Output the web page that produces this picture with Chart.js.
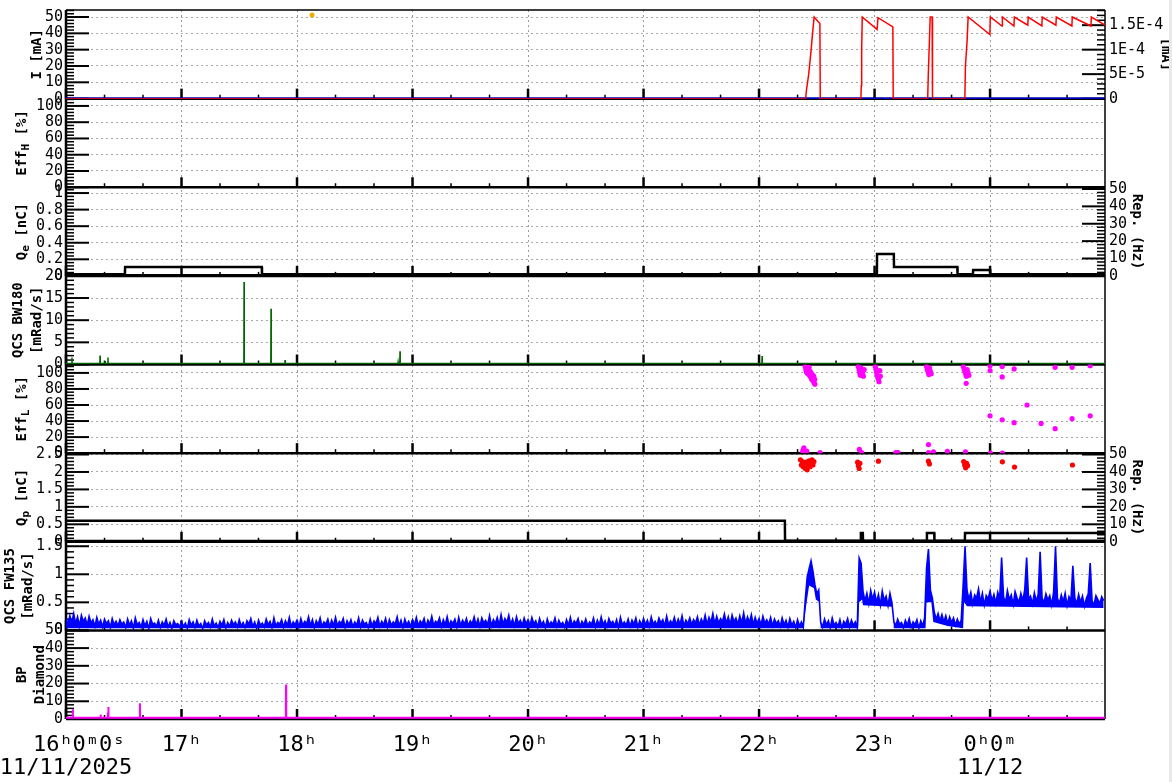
<!DOCTYPE html>
<html>
<head>
<meta charset="utf-8">
<title>Beam monitor 11/11/2025</title>
<script src="https://cdn.jsdelivr.net/npm/chart.js@4.4.1/dist/chart.umd.min.js"></script>
<style>
  html, body { margin: 0; padding: 0; background: #fff; }
  canvas { display: block; }
</style>
</head>
<body>
<canvas id="myChart" width="1172" height="782"></canvas>
<script>
// time = minutes after 16:00 on 11/11/2025
const xMax = 539.7;
const hourTicks = [0, 60, 120, 180, 240, 300, 360, 420, 480];
const hourLabels = [['  16ʰ0ᵐ0ˢ', '11/11/2025'], '17ʰ', '18ʰ', '19ʰ', '20ʰ', '21ʰ', '22ʰ', '23ʰ', ['0ʰ0ᵐ', '11/12']];

// panel 1 : I [mA]
const iTime = [0, 384.2, 384.6, 385.8, 386.9, 387.8, 388.6, 391.6, 391.8, 412.9, 413.1, 413.3, 413.6, 421.3, 421.8, 429.5, 429.7,
  447.6, 447.9, 448.9, 449.9, 450.1, 466.9, 467.2, 468.1, 468.6, 479.9, 480.1, 486.2, 486.4, 492.4, 492.6, 499.6, 499.8,
  506.9, 507.1, 514.2, 514.4, 522.5, 522.7, 532.4, 532.6, 539.7];
const iVal = [0, 0, 5, 15, 28, 40, 50, 46, 0, 0, 8, 30, 50, 42.4, 49.6, 44, 0,
  0, 14, 50, 50, 0, 0, 20, 36, 50, 39.3, 50, 44.5, 50, 44.5, 50, 45, 50,
  44.5, 50, 45, 50, 44.5, 50, 44.5, 50, 45];
const iRightTime = [0, xMax];
const iRightVal = [0, 0];
const extraTime = [127.8];
const extraVal = [51.2];

// panel 3 : Qe [nC] and Rep. (Hz)
const qeTime = [0, 30.6, 30.7, 101.7, 101.8, 421.2, 421.3, 430.0, 430.1, 463.0, 463.1, 471.1, 471.2, 480.0, 480.1, xMax];
const qeVal = [0.02, 0.02, 0.108, 0.108, 0.02, 0.02, 0.265, 0.265, 0.108, 0.108, 0.02, 0.02, 0.07, 0.07, 0.02, 0.02];
const repETime = [0, xMax];
const repEVal = [0.3, 0.3];

// panel 4 : QCS BW180 [mRad/s]
const bwTime = [0, 3.0, 3.1, 3.2, 17.6, 17.7, 17.8, 20.2, 20.3, 20.4, 21.7, 21.8, 21.9, 92.4, 92.5, 92.6,
  106.4, 106.5, 106.6, 113.7, 113.8, 113.9, 172.4, 172.5, 172.6, 173.4, 173.5, 173.6, 361.5, 361.6, 361.7, xMax];
const bwVal = [0.2, 0.2, 1.6, 0.2, 0.2, 2.0, 0.2, 0.2, 0.8, 0.2, 0.2, 1.6, 0.2, 0.2, 18.6, 0.2,
  0.2, 12.6, 0.2, 0.2, 1.0, 0.2, 0.2, 0.5, 0.2, 0.2, 3.0, 0.2, 0.2, 1.9, 0.2, 0.2];

// panel 5 : EffL [%]
const effLTime = [384.0, 384.3, 384.6, 385.0, 385.3, 385.6, 386.0, 386.2, 386.5, 386.8, 387.0, 387.3, 387.6, 387.8, 388.1, 388.4, 388.6, 388.9, 389.0,
  411.5, 412.0, 412.3, 412.6, 413.0, 413.4, 413.8, 414.2, 414.6,
  420.4, 420.7, 421.0, 421.3, 421.6, 422.0, 422.3, 422.7, 423.0,
  447.0, 447.4, 447.8, 448.2, 448.6, 449.0, 449.4,
  466.1, 466.5, 466.9, 467.3, 467.7, 468.1, 468.6, 469.0, 467.6,
  480.0, 480.0, 486.3, 486.3, 492.5, 513.8, 522.6, 532.0,
  480.0, 486.3, 492.5, 499.2, 506.5, 513.8, 522.6, 532.0,
  383.0, 382.7, 384.8, 383.3, 391.7, 412.1, 413.3, 431.0, 432.2, 448.0, 448.0, 450.6, 457.8, 467.2, 480.2, 486.4];
const effLVal = [108, 104, 101, 106, 99, 103, 107, 97, 102, 95, 100, 92, 98, 94, 90, 96, 88, 92, 86,
  108, 104, 100, 97, 106, 102, 99, 96, 104,
  108, 105, 101, 98, 95, 92, 89, 103, 96,
  108, 104, 101, 98, 106, 102, 99,
  108, 105, 102, 99, 96, 104, 100, 97, 87,
  109, 103, 108, 95, 105, 107, 107, 109,
  46.5, 41.6, 38, 60, 37, 30.5, 43, 46.5,
  4.6, 2.5, 2.5, 6.7, 0.5, 4.6, 0.5, 0.5, 0.5, 10.7, 0.5, 1.6, 2.1, 1.6, 0, 0];

// panel 6 : Qp [nC] and Rep. (Hz)
const qpDotTime = [381.5, 382.0, 382.5, 383.0, 383.5, 384.0, 384.5, 385.0, 385.5, 386.0, 386.5, 387.0, 387.5, 388.0, 388.5,
  411.2, 411.6, 412.0, 412.4, 422.0, 448.0, 448.5, 466.3, 466.8, 467.3, 467.8, 468.3, 486.4, 492.7, 522.8];
const qpDotVal = [2.35, 2.2, 2.3, 2.15, 2.25, 2.1, 2.28, 2.06, 2.2, 2.32, 2.15, 2.25, 2.35, 2.2, 2.3,
  2.28, 2.18, 2.1, 2.25, 2.31, 2.31, 2.23, 2.3, 2.2, 2.12, 2.25, 2.18, 2.29, 2.14, 2.2];
const qpTime = [0, 373.4, 373.5, xMax];
const qpVal = [0.6, 0.6, 0.03, 0.03];
const repPTime = [0, 412.8, 412.9, 413.9, 414.0, 447.1, 447.2, 451.0, 451.1, 466.9, 467.0, xMax];
const repPVal = [0.5, 0.5, 5, 5, 0.5, 0.5, 5, 5, 0.5, 0.5, 5, 5];

// panel 7 : QCS FW135 [mRad/s], one value per minute from 16:00
const fwVal = [
  0.21,0.10,0.26,0.14,0.30,0.12,0.24,0.08,0.27,0.16,0.22,0.09,0.25,0.13,0.19,0.07,0.23,0.11,0.18,0.06,0.20,0.12,0.17,0.05,0.21,0.10,0.16,0.08,0.19,0.11,
  0.15,0.05,0.20,0.09,0.17,0.04,0.22,0.10,0.14,0.06,0.19,0.08,0.16,0.03,0.21,0.11,0.13,0.07,0.18,0.05,0.15,0.09,0.20,0.06,0.14,0.04,0.17,0.10,0.12,0.06,
  0.16,0.07,0.13,0.04,0.19,0.09,0.15,0.05,0.18,0.08,0.12,0.03,0.17,0.10,0.14,0.06,0.20,0.08,0.13,0.05,0.16,0.09,0.19,0.04,0.14,0.07,0.18,0.10,0.15,0.06,
  0.19,0.08,0.14,0.05,0.17,0.11,0.21,0.07,0.15,0.04,0.18,0.09,0.13,0.06,0.20,0.10,0.16,0.05,0.22,0.08,0.14,0.11,0.19,0.06,0.17,0.09,0.23,0.07,0.15,0.10,
  0.18,0.06,0.21,0.09,0.16,0.12,0.24,0.08,0.19,0.05,0.17,0.10,0.22,0.07,0.15,0.11,0.20,0.06,0.18,0.09,0.23,0.08,0.16,0.12,0.21,0.05,0.17,0.10,0.19,0.07,
  0.15,0.09,0.22,0.06,0.18,0.11,0.14,0.05,0.20,0.08,0.17,0.12,0.23,0.07,0.16,0.10,0.21,0.06,0.19,0.09,0.15,0.11,0.24,0.08,0.18,0.05,0.20,0.10,0.16,0.07,
  0.19,0.10,0.23,0.08,0.17,0.12,0.21,0.06,0.18,0.11,0.25,0.09,0.16,0.13,0.22,0.07,0.19,0.10,0.24,0.08,0.17,0.12,0.20,0.06,0.23,0.09,0.18,0.11,0.21,0.08,
  0.17,0.12,0.24,0.09,0.20,0.07,0.22,0.13,0.18,0.10,0.26,0.08,0.19,0.12,0.23,0.09,0.28,0.11,0.21,0.14,0.27,0.10,0.20,0.08,0.24,0.12,0.18,0.09,0.22,0.11,
  0.19,0.08,0.23,0.12,0.17,0.06,0.21,0.10,0.16,0.05,0.20,0.09,0.15,0.11,0.22,0.07,0.18,0.10,0.14,0.06,0.19,0.09,0.23,0.08,0.17,0.12,0.21,0.07,0.16,0.10,
  0.20,0.08,0.15,0.11,0.22,0.06,0.18,0.09,0.24,0.10,0.17,0.07,0.21,0.12,0.16,0.08,0.19,0.05,0.23,0.10,0.15,0.09,0.20,0.07,0.18,0.11,0.22,0.06,0.17,0.09,
  0.21,0.10,0.18,0.07,0.24,0.11,0.16,0.09,0.22,0.13,0.19,0.08,0.25,0.10,0.17,0.12,0.23,0.09,0.20,0.11,0.26,0.08,0.18,0.12,0.22,0.10,0.19,0.13,0.24,0.09,
  0.20,0.12,0.27,0.10,0.23,0.14,0.30,0.11,0.25,0.13,0.21,0.16,0.29,0.12,0.24,0.10,0.27,0.15,0.22,0.11,0.26,0.13,0.31,0.12,0.24,0.14,0.28,0.10,0.23,0.12,
  0.21,0.09,0.25,0.13,0.19,0.11,0.23,0.08,0.20,0.12,0.17,0.07,0.22,0.10,0.18,0.06,0.21,0.09,0.16,0.05,0.19,0.08,0.15,0.06,0.55,0.95,1.10,1.24,1.05,0.82,
  0.65,0.72,0.15,0.06,0.20,0.10,0.17,0.05,0.22,0.09,0.14,0.07,0.19,0.04,0.16,0.11,0.21,0.06,0.18,0.09,0.15,0.05,1.29,1.20,0.70,0.52,0.66,0.48,0.71,0.55,
  0.68,0.50,0.64,0.45,0.70,0.53,0.61,0.44,0.66,0.50,0.16,0.08,0.20,0.11,0.14,0.05,0.18,0.09,0.21,0.06,0.15,0.10,0.19,0.04,0.17,0.08,0.22,1.10,1.45,0.72,
  0.58,0.33,0.20,0.30,0.17,0.28,0.15,0.26,0.12,0.24,0.14,0.22,0.09,0.20,0.11,0.18,0.80,1.50,0.72,0.55,0.68,0.47,0.63,0.58,0.74,0.50,0.66,0.45,0.62,0.56,
  0.70,0.52,0.64,0.48,0.68,0.57,1.30,0.60,0.49,0.71,0.55,0.63,0.46,0.69,0.58,0.50,0.66,0.53,0.72,1.30,0.56,0.61,0.47,0.67,0.52,0.64,1.40,0.58,0.49,0.65,
  0.54,0.62,0.45,0.68,1.50,0.57,0.48,0.63,0.51,0.66,0.44,0.60,0.53,1.15,0.58,0.47,0.64,0.50,0.61,0.43,0.57,0.65,1.20,0.52,0.46,0.62,0.55,0.48,0.60,0.53
];
// lower edge of the FW135 noise band
const fwLowTime = [0, 383, 384.5, 386, 388.5, 389.5, 391.5, 392, 411.5, 412, 413.5, 414, 429.5, 430, 446.5, 447, 449.5, 450.5, 458, 466, 466.5, 468, xMax];
const fwLowVal = [0.04, 0.04, 0.45, 0.8, 0.75, 0.55, 0.5, 0.04, 0.04, 0.5, 0.55, 0.45, 0.42, 0.04, 0.04, 0.5, 0.5, 0.15, 0.08, 0.04, 0.5, 0.43, 0.40];

// panel 8 : BP Diamond
const bpTime = [0, 3.4, 3.5, 3.6, 17.9, 18.0, 18.1, 21.6, 21.7, 21.8, 21.9, 22.0, 22.1, 38.3, 38.4, 38.5, 114.2, 114.3, 114.4, xMax];
const bpVal = [0.7, 0.7, 5.5, 0.7, 0.7, 2.5, 0.7, 0.7, 3.5, 0.7, 0.7, 6.7, 0.7, 0.7, 8.9, 0.7, 0.7, 19.4, 0.7, 0.7];

const r1Ticks = [0, 5e-5, 1e-4, 1.5e-4];
const r1Labels = ['0', '5E-5', '1E-4', '1.5E-4'];

const mono = 'DejaVu Sans Mono';
Chart.defaults.font.family = mono;

function pts(t, v) { return t.map((x, k) => ({ x: x, y: v[k] })); }
function fmt(v) { return String(Math.round(v * 1000) / 1000); }
function noPad(s) { s.paddingTop = 0; s.paddingBottom = 0; s.paddingLeft = 0; s.paddingRight = 0; }

function leftAxis(weight, max, step) {
  return {
    type: 'linear', position: 'left', stack: 'panels', stackWeight: 1, weight: weight,
    min: 0, max: max,
    afterFit: s => { s.width = 66; noPad(s); },
    grid: { color: '#a8a8a8', drawTicks: false },
    border: { display: false, dash: [2, 3] },
    ticks: { stepSize: step, includeBounds: false, autoSkip: false, padding: 3, color: '#000',
      font: { family: mono, size: 15 }, callback: fmt }
  };
}
function rightAxis(weight, max, step, cb) {
  return {
    type: 'linear', position: 'right', stack: 'panels', stackWeight: 1, weight: weight,
    min: 0, max: max || 1,
    afterFit: s => { s.width = 67; noPad(s); },
    grid: { display: false, drawTicks: false },
    border: { display: false },
    ticks: { display: !!step, stepSize: step || 1, includeBounds: false, autoSkip: false, padding: 4, color: '#000',
      font: { family: mono, size: 15 }, callback: cb || fmt }
  };
}

const data = {
  datasets: [
    { data: pts(iTime, iVal), yAxisID: 'y1', borderColor: 'rgb(255,0,0)', borderWidth: 1.5 },
    { data: pts(iRightTime, iRightVal), yAxisID: 'r1', borderColor: 'rgb(0,0,255)', borderWidth: 2.5 },
    { data: pts(extraTime, extraVal), yAxisID: 'y1', showLine: false, pointRadius: 2.5, pointBorderWidth: 0, pointBackgroundColor: 'rgb(240,170,0)' },
    { data: pts(qeTime, qeVal), yAxisID: 'y3', borderColor: '#000', borderWidth: 2.5 },
    { data: pts(repETime, repEVal), yAxisID: 'r3', borderColor: '#000', borderWidth: 2.5 },
    { data: pts(effLTime, effLVal), yAxisID: 'y5', showLine: false, pointRadius: 2.6, pointBorderWidth: 0, pointBackgroundColor: 'rgb(255,0,255)' },
    { data: pts(bwTime, bwVal), yAxisID: 'y4', borderColor: 'rgb(0,100,0)', borderWidth: 1.5 },
    { data: pts(qpDotTime, qpDotVal), yAxisID: 'y6', showLine: false, pointRadius: 2.6, pointBorderWidth: 0, pointBackgroundColor: 'rgb(255,0,0)' },
    { data: pts(qpTime, qpVal), yAxisID: 'y6', borderColor: '#000', borderWidth: 2.5 },
    { data: pts(repPTime, repPVal), yAxisID: 'r6', borderColor: '#000', borderWidth: 2.5 },
    { data: fwVal.map((v, k) => ({ x: k, y: v })), yAxisID: 'y7', borderColor: 'rgb(0,0,255)', borderWidth: 1.6,
      fill: '+1', backgroundColor: 'rgb(0,0,255)' },
    { data: pts(fwLowTime, fwLowVal), yAxisID: 'y7', borderColor: 'rgba(0,0,0,0)', borderWidth: 0 },
    { data: pts(bpTime, bpVal), yAxisID: 'y8', borderColor: 'rgb(255,0,255)', borderWidth: 2 }
  ]
};

// panel frames, inner tick marks, titles
const leftTickSteps = { y1: [10, 2], y2: [20, 4], y3: [0.2, 0.04], y4: [5, 1], y5: [20, 4], y6: [0.5, 0.1], y7: [0.5, 0.1], y8: [10, 2] };
const rightTickSteps = { r1: [5e-5, 1e-5], r3: [10, 2], r6: [10, 2] };
const leftTitles = {
  y1: [{ x: 37, parts: [['I [mA]']] }],
  y2: [{ x: 22, parts: [['Eff'], ['H', 1], [' [%]']] }],
  y3: [{ x: 22, parts: [['Q'], ['e', 1], [' [nC]']] }],
  y4: [{ x: 18, parts: [['QCS BW180']] }, { x: 37, parts: [['[mRad/s]']] }],
  y5: [{ x: 22, parts: [['Eff'], ['L', 1], [' [%]']] }],
  y6: [{ x: 22, parts: [['Q'], ['p', 1], [' [nC]']] }],
  y7: [{ x: 10, parts: [['QCS FW135']] }, { x: 28, parts: [['[mRad/s]']] }],
  y8: [{ x: 22, parts: [['BP']] }, { x: 40, parts: [['Diamond']] }]
};
const rightTitles = { r1: { x: 1166, text: '[mA]' }, r3: { x: 1137, text: 'Rep. (Hz)' }, r6: { x: 1137, text: 'Rep. (Hz)' } };

function drawMarks(ctx, s, steps, x0, dir) {
  const major = steps[0], minor = steps[1];
  for (let k = 0; k * minor <= s.max + 1e-12; k++) {
    const v = k * minor;
    const isMajor = Math.abs(v / major - Math.round(v / major)) < 1e-6;
    const y = s.getPixelForValue(v);
    ctx.lineWidth = isMajor ? 2 : 1.5;
    ctx.beginPath();
    ctx.moveTo(x0, y);
    ctx.lineTo(x0 + dir * (isMajor ? 23 : 8), y);
    ctx.stroke();
  }
}

function drawRich(ctx, parts, size) {
  const big = 'bold ' + size + 'px "' + mono + '"';
  const small = 'bold ' + Math.round(size * 0.78) + 'px "' + mono + '"';
  let w = 0;
  parts.forEach(p => { ctx.font = p[1] ? small : big; w += ctx.measureText(p[0]).width; });
  let x = -w / 2;
  parts.forEach(p => {
    ctx.font = p[1] ? small : big;
    ctx.fillText(p[0], x, p[1] ? 4 : 0);
    x += ctx.measureText(p[0]).width;
  });
}

const panelPlugin = {
  id: 'panels',
  beforeDatasetsDraw(chart) {
    const ctx = chart.ctx, ca = chart.chartArea, xs = chart.scales.x;
    ctx.save();
    ctx.strokeStyle = '#000';
    Object.keys(leftTickSteps).forEach(id => {
      const s = chart.scales[id];
      for (let m = 0; m <= xMax; m += 20) {
        const px = xs.getPixelForValue(m);
        const hour = m % 60 === 0;
        ctx.lineWidth = hour ? 2.5 : 1.5;
        ctx.beginPath();
        ctx.moveTo(px, s.bottom);
        ctx.lineTo(px, s.bottom - (hour ? 10 : 4));
        ctx.stroke();
      }
      drawMarks(ctx, s, leftTickSteps[id], ca.left, 1);
      ctx.lineWidth = 2.5;
      ctx.beginPath();
      ctx.moveTo(ca.left, s.bottom);
      ctx.lineTo(ca.right, s.bottom);
      ctx.stroke();
    });
    Object.keys(rightTickSteps).forEach(id => drawMarks(ctx, chart.scales[id], rightTickSteps[id], ca.right, -1));
    ctx.lineWidth = 1.5;
    ctx.beginPath();
    ctx.moveTo(ca.left, ca.top);
    ctx.lineTo(ca.right, ca.top);
    ctx.moveTo(ca.right, ca.top);
    ctx.lineTo(ca.right, ca.bottom);
    ctx.stroke();
    ctx.lineWidth = 2.5;
    ctx.beginPath();
    ctx.moveTo(ca.left, ca.top);
    ctx.lineTo(ca.left, ca.bottom);
    ctx.stroke();
    ctx.restore();
  },
  afterDraw(chart) {
    const ctx = chart.ctx;
    ctx.save();
    ctx.fillStyle = '#000';
    ctx.textAlign = 'left';
    ctx.textBaseline = 'middle';
    Object.keys(leftTitles).forEach(id => {
      const s = chart.scales[id];
      const yc = (s.top + s.bottom) / 2;
      leftTitles[id].forEach(line => {
        ctx.save();
        ctx.translate(line.x, yc);
        ctx.rotate(-Math.PI / 2);
        drawRich(ctx, line.parts, 14);
        ctx.restore();
      });
    });
    Object.keys(rightTitles).forEach(id => {
      const s = chart.scales[id];
      const t = rightTitles[id];
      ctx.save();
      ctx.translate(t.x, (s.top + s.bottom) / 2);
      ctx.rotate(Math.PI / 2);
      drawRich(ctx, [[t.text]], 14);
      ctx.restore();
    });
    ctx.fillStyle = '#e9e9e9';
    ctx.fillRect(1169, 0, 3, chart.height);
    ctx.restore();
  }
};

const config = {
  type: 'line',
  data: data,
  options: {
    animation: false,
    responsive: false,
    devicePixelRatio: 1,
    layout: { padding: { top: 10, left: 0, right: 0, bottom: 0 }, autoPadding: false },
    elements: { point: { radius: 0 }, line: { tension: 0 } },
    plugins: { legend: { display: false }, tooltip: { enabled: false }, filler: { propagate: false } },
    scales: {
      x: {
        type: 'linear', position: 'bottom', min: 0, max: xMax,
        afterBuildTicks: s => { s.ticks = hourTicks.map(v => ({ value: v })); },
        afterFit: s => { s.height = 63; noPad(s); },
        grid: { color: '#9c9c9c', drawTicks: false },
        border: { display: false, dash: [2, 3] },
        ticks: {
          autoSkip: false, maxRotation: 0, padding: 15, color: '#000',
          font: { family: mono, size: 22, lineHeight: 1.05 },
          callback: v => { const k = hourTicks.indexOf(v); return k < 0 ? '' : hourLabels[k]; }
        }
      },
      y1: leftAxis(8, 54.3, 10),
      y2: leftAxis(7, 109, 20),
      y3: leftAxis(6, 1.07, 0.2),
      y4: leftAxis(5, 20, 5),
      y5: leftAxis(4, 110.5, 20),
      y6: leftAxis(3, 2.54, 0.5),
      y7: leftAxis(2, 1.58, 0.5),
      y8: leftAxis(1, 50, 10),
      r1: rightAxis(1, 1.81e-4, 5e-5, v => { const k = r1Ticks.findIndex(t => Math.abs(t - v) < 1e-9); return k < 0 ? '' : r1Labels[k]; }),
      r2: rightAxis(2),
      r3: rightAxis(3, 51, 10),
      r4: rightAxis(4),
      r5: rightAxis(5),
      r6: rightAxis(6, 50.8, 10),
      r7: rightAxis(7),
      r8: rightAxis(8)
    }
  },
  plugins: [panelPlugin]
};

const myChart = new Chart(document.getElementById('myChart'), config);
</script>
</body>
</html>
